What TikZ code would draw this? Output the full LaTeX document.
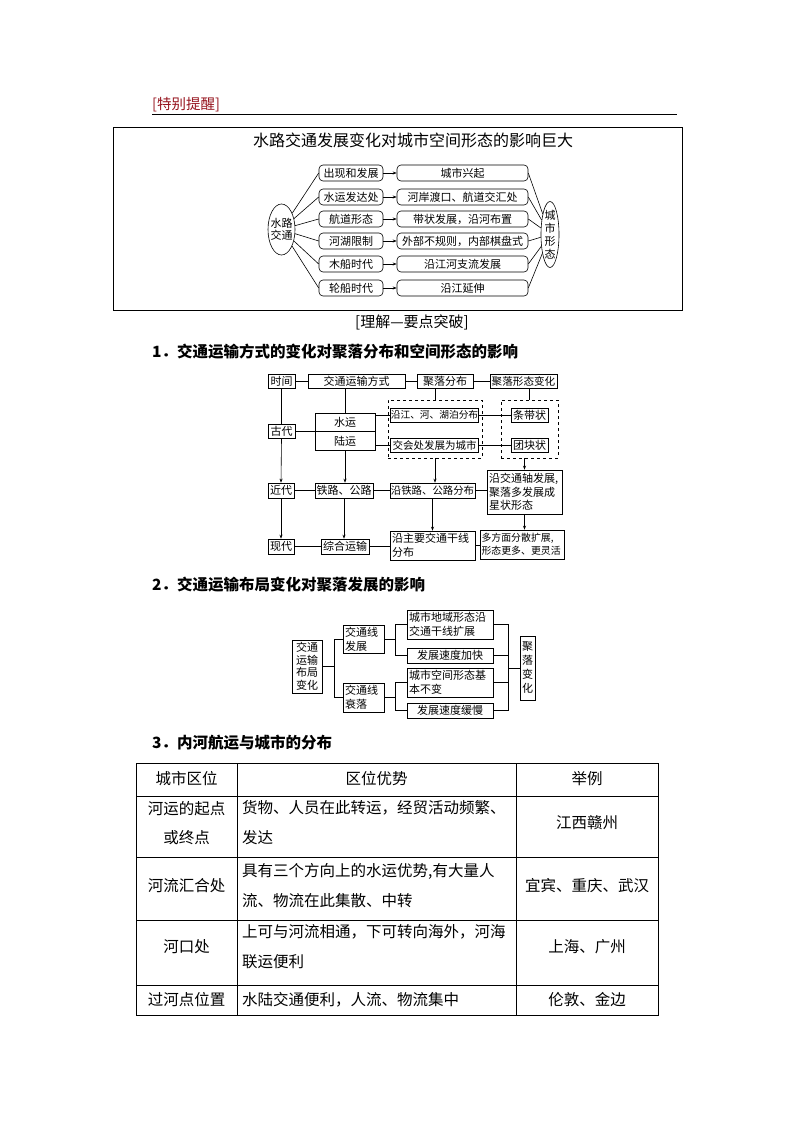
\documentclass[tikz,border=0pt]{standalone}
\usepackage{fontspec}
\setmainfont{Noto Sans CJK SC}
\usetikzlibrary{arrows.meta,shapes.geometric,calc}
\definecolor{tbred}{RGB}{150,20,30}
\begin{document}
\begin{tikzpicture}[x=1pt,y=-1pt,
  ln/.style={line width=0.6pt},
  arr/.style={line width=0.6pt,-{Stealth[length=4pt,width=3pt]}},
  rbox/.style={draw,line width=0.6pt,rounded corners=4pt,inner sep=0pt,minimum height=16pt,font=\fontsize{11}{13}\selectfont},
  bx/.style={draw,line width=0.6pt,inner sep=0pt,font=\fontsize{11}{13}\selectfont},
  bxl/.style={draw,line width=0.6pt,inner sep=2pt,align=left,font=\fontsize{11}{13.5}\selectfont},
  dbox/.style={draw,dashed,line width=0.6pt,inner sep=0pt},
  head/.style={anchor=west,inner sep=0pt,font=\fontsize{15.5}{18}\selectfont\bfseries},
  cell/.style={inner sep=0pt,font=\fontsize{15.5}{29}\selectfont},
  celll/.style={inner sep=0pt,anchor=west,align=left,font=\fontsize{15.5}{30}\selectfont},
]
\useasboundingbox (0,0) rectangle (794,1123);

% ---------- top ----------
\node[anchor=west,inner sep=0pt,text=tbred,font=\fontsize{14.5}{17}\selectfont] (tb) at (152,105) {[特别提醒]};
\coordinate (ulend) at (677,114);
\draw[ln] (tb.west |- ulend) -- (ulend);

\node[draw,line width=0.7pt,minimum width=569pt,minimum height=183pt,inner sep=0pt] (frame) at (397.5,218.5) {};
\node[inner sep=0pt,font=\fontsize{16}{18}\selectfont] (title) at (413,140) {水路交通发展变化对城市空间形态的影响巨大};

\node[draw,ellipse,line width=0.6pt,minimum width=27pt,minimum height=51pt,inner sep=0pt,
  label={[align=center,font=\fontsize{11}{12.5}\selectfont,inner sep=0pt]center:水路\\交通}] (L) at (281.5,229.5) {};
\node[draw,ellipse,line width=0.6pt,minimum width=18pt,minimum height=66pt,inner sep=0pt,
  label={[align=center,font=\fontsize{11}{13}\selectfont,inner sep=0pt]center:城\\市\\形\\态}] (R) at (550,234.5) {};

\node[rbox,minimum width=64pt] (l1) at (351,173) {出现和发展};
\node[rbox,minimum width=64pt] (l2) at (351,197) {水运发达处};
\node[rbox,minimum width=64pt] (l3) at (351,219) {航道形态};
\node[rbox,minimum width=64pt] (l4) at (351,241) {河湖限制};
\node[rbox,minimum width=64pt] (l5) at (351,264) {木船时代};
\node[rbox,minimum width=64pt] (l6) at (351,288) {轮船时代};

\node[rbox,minimum width=131pt] (r1) at (462.5,173) {城市兴起};
\node[rbox,minimum width=131pt] (r2) at (462.5,197) {河岸渡口、航道交汇处};
\node[rbox,minimum width=131pt] (r3) at (462.5,219) {带状发展，沿河布置};
\node[rbox,minimum width=131pt] (r4) at (462.5,241) {外部不规则，内部棋盘式};
\node[rbox,minimum width=131pt] (r5) at (462.5,264) {沿江河支流发展};
\node[rbox,minimum width=131pt] (r6) at (462.5,288) {沿江延伸};

\foreach \i in {1,...,6}{
  \draw[ln] (L) -- (l\i.west);
  \draw[arr] (l\i.east) -- (r\i.west);
  \draw[ln] (r\i.east) -- (R);
}

\node[inner sep=0pt,font=\fontsize{15}{18}\selectfont] (lj) at (412,322) {[理解—要点突破]};

% ---------- section 1 ----------
\node[head] (h1) at (152,352) {1．交通运输方式的变化对聚落分布和空间形态的影响};

\node[bx,minimum width=27pt,minimum height=14pt] (shijian) at (281.5,381.5) {时间};
\node[bx,minimum width=97pt,minimum height=14pt] (jtfs) at (356.5,381.5) {交通运输方式};
\node[bx,minimum width=56pt,minimum height=14pt] (jlfb) at (445,381.5) {聚落分布};
\node[bx,minimum width=67pt,minimum height=14pt,font=\fontsize{10.6}{13}\selectfont] (jlxt) at (523.5,381.5) {聚落形态变化};

\node[bx,minimum width=27pt,minimum height=14pt] (gudai) at (281.5,431.5) {古代};
\node[bx,minimum width=60pt,minimum height=37pt] (sybox) at (345,431.5) {};
\node[inner sep=0pt,font=\fontsize{11}{13}\selectfont] (sy) at (345,422) {水运};
\node[inner sep=0pt,font=\fontsize{11}{13}\selectfont] (ly) at (345,441) {陆运};

\node[dbox,minimum width=94pt,minimum height=58pt] (dash1) at (435,429) {};
\node[bx,minimum width=88pt,minimum height=14pt,font=\fontsize{9.7}{12}\selectfont] (yj) at (434.5,415) {沿江、河、湖泊分布};
\node[bx,minimum width=88pt,minimum height=14pt,font=\fontsize{10.5}{12}\selectfont] (jh) at (434.5,445) {交会处发展为城市};
\node[dbox,minimum width=57pt,minimum height=58pt] (dash2) at (529.5,429) {};
\node[bx,minimum width=37pt,minimum height=14pt] (tdz) at (529.5,415) {条带状};
\node[bx,minimum width=37pt,minimum height=14pt] (tkz) at (529.5,445) {团块状};

\node[bx,minimum width=26pt,minimum height=15pt] (jindai) at (281,490.5) {近代};
\node[bx,minimum width=58pt,minimum height=15pt] (tlgl) at (344,490.5) {铁路、公路};
\node[bx,minimum width=85pt,minimum height=15pt,font=\fontsize{10.4}{12}\selectfont] (ytl) at (432.5,490.5) {沿铁路、公路分布};
\node[bxl,text width=71pt,minimum height=44pt] (yjtz) at (524.5,492) {沿交通轴发展,\\聚落多发展成\\星状形态};

\node[bx,minimum width=26pt,minimum height=15pt] (xiandai) at (281,546.5) {现代};
\node[bx,minimum width=48pt,minimum height=15pt] (zhys) at (345,546.5) {综合运输};
\node[bxl,text width=81pt,minimum height=29pt] (yzy) at (432.5,545.5) {沿主要交通干线\\分布};
\node[bxl,text width=81pt,minimum height=29pt,inner sep=1.5pt,font=\fontsize{9.9}{13}\selectfont] (dfm) at (522,544.5) {多方面分散扩展,\\形态更多、更灵活};

\draw[ln] (shijian.east) -- (jtfs.west);
\draw[ln] (jtfs.east) -- (jlfb.west);
\draw[ln] (jlfb.east) -- (jlxt.west);
\draw[ln] (shijian.south) -- (gudai.north);
\draw[arr] (gudai.south) -- (jindai.north);
\draw[arr] (jindai.south) -- (xiandai.north);
\draw[ln] (sybox.north) -- (sybox.north |- jtfs.south);
\draw[ln] (gudai.east) -- (sybox.east);
\draw[ln] (yj.west -| sybox.east) -- (yj.west);
\draw[ln] (jh.west -| sybox.east) -- (jh.west);
\draw[ln] (dash1.north |- jlfb.south) -- (dash1.north);
\draw[ln] (dash2.north |- jlxt.south) -- (dash2.north);
\draw[ln] (yj.east) -- (tdz.west);
\draw[ln] (jh.east) -- (tkz.west);
\draw[arr] (sybox.south) -- (sybox.south |- tlgl.north);
\draw[ln] (jindai.east) -- (tlgl.west);
\draw[ln] (tlgl.east) -- (ytl.west);
\draw[ln] (ytl.east) -- (ytl.east -| yjtz.west);
\draw[arr] (dash1.south) -- (dash1.south |- ytl.north);
\draw[arr] (yjtz.north |- dash2.south) -- (yjtz.north);
\draw[arr] (tlgl.south) -- (tlgl.south |- zhys.north);
\draw[arr] (ytl.south) -- (ytl.south |- yzy.north);
\draw[arr] (yjtz.south) -- (yjtz.south |- dfm.north);
\draw[ln] (xiandai.east) -- (zhys.west);
\draw[ln] (zhys.east) -- (zhys.east -| yzy.west);
\draw[ln] (yzy.east) -- (yzy.east -| dfm.west);

% ---------- section 2 ----------
\node[head] (h2) at (152,585) {2．交通运输布局变化对聚落发展的影响};

\node[bx,minimum width=30pt,minimum height=53pt,align=center,font=\fontsize{11}{12.5}\selectfont] (jtbj) at (307,666.5) {交通\\运输\\布局\\变化};
\node[bxl,text width=37pt,minimum height=27pt] (fz) at (363.5,639.5) {交通线\\发展};
\node[bxl,text width=37pt,minimum height=29pt] (sl) at (363.5,697.5) {交通线\\衰落};
\node[bxl,text width=82pt,minimum height=29pt] (c1) at (450,624.5) {城市地域形态沿\\交通干线扩展};
\node[bx,minimum width=86pt,minimum height=15pt] (c2) at (450,655.5) {发展速度加快};
\node[bxl,text width=82pt,minimum height=29pt] (c3) at (450,682.5) {城市空间形态基\\本不变};
\node[bx,minimum width=86pt,minimum height=15pt] (c4) at (450,710.5) {发展速度缓慢};
\node[bx,minimum width=15pt,minimum height=64pt,align=center,font=\fontsize{11}{14}\selectfont] (jlbh) at (527.5,668) {聚\\落\\变\\化};

\coordinate (k1) at (334,0);
\coordinate (k2) at (395,0);
\coordinate (k3) at (508,0);
\draw[ln] (jtbj.east) -- (jtbj.east -| k1);
\draw[ln] (fz.west) -- (fz.west -| k1) -- (sl.west -| k1) -- (sl.west);
\draw[ln] (fz.east) -- (fz.east -| k2);
\draw[ln] (c1.west) -- (c1.west -| k2) -- (c2.west -| k2) -- (c2.west);
\draw[ln] (sl.east) -- (sl.east -| k2);
\draw[ln] (c3.west) -- (c3.west -| k2) -- (c4.west -| k2) -- (c4.west);
\draw[ln] (c1.east) -- (c1.east -| k3) -- (c4.east -| k3) -- (c4.east);
\draw[ln] (c2.east) -- (c2.east -| k3);
\draw[ln] (c3.east) -- (c3.east -| k3);
\draw[ln] (jlbh.west) -- (jlbh.west -| k3);

% ---------- section 3 ----------
\node[head] (h3) at (152,743) {3．内河航运与城市的分布};

\draw[line width=0.8pt] (136,763) rectangle (658,1015);
\foreach \yy in {796,857,920,985} \draw[line width=0.8pt] (136,\yy) -- (658,\yy);
\foreach \xx in {237,516} \draw[line width=0.8pt] (\xx,763) -- (\xx,1015);

\node[cell] (t11) at (186.5,779) {城市区位};
\node[cell] (t12) at (376.5,779) {区位优势};
\node[cell] (t13) at (587,779) {举例};

\node[cell,align=center] (t21) at (186.5,823) {河运的起点\\或终点};
\node[celll] (t22) at (242,823) {货物、人员在此转运，经贸活动频繁、\\发达};
\node[cell] (t23) at (587,823) {江西赣州};

\node[cell] (t31) at (186.5,886) {河流汇合处};
\node[celll] (t32) at (242,886) {具有三个方向上的水运优势,有大量人\\流、物流在此集散、中转};
\node[cell] (t33) at (587,886) {宜宾、重庆、武汉};

\node[cell] (t41) at (186.5,947) {河口处};
\node[celll] (t42) at (242,947) {上可与河流相通，下可转向海外，河海\\联运便利};
\node[cell] (t43) at (587,947) {上海、广州};

\node[cell] (t51) at (186.5,1000) {过河点位置};
\node[celll] (t52) at (242,1000) {水陆交通便利，人流、物流集中};
\node[cell] (t53) at (587,1000) {伦敦、金边};
\end{tikzpicture}
\end{document}
